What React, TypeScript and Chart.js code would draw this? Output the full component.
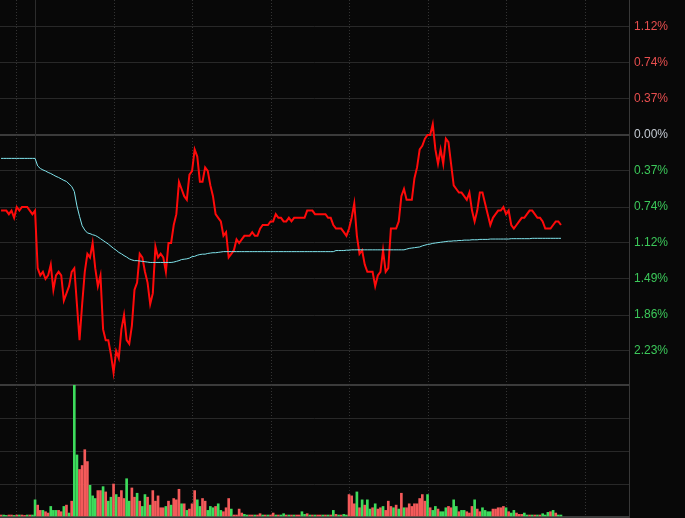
import React, { useEffect, useRef } from "react";
import { Chart, registerables } from "chart.js";

Chart.register(...registerables);

// ---------------- data ----------------
const PREV_CLOSE = 26.9;
const FIRST_MINUTE = -13;
const X_MIN = -13.4;
const X_MAX = 227;

const priceTicks = [27.2, 27.1, 27.0, 26.9, 26.8, 26.7, 26.6, 26.5, 26.4, 26.3];
const volumeTicks = [0, 25, 50, 75, 100];
const solidTimeLines = [0];
const dottedTimeLines = [-7.3, 30, 60, 90, 120, 150, 180, 210];

// last price, one value per minute from -13 to 201
const prices = [
  26.69, 26.69, 26.69, 26.68, 26.69, 26.67, 26.70, 26.69, 26.70, 26.70, 26.70, 26.69, 26.68, 26.69,
  26.53, 26.51, 26.52, 26.50, 26.51, 26.54, 26.47, 26.51, 26.52, 26.51,
  26.44, 26.46, 26.48, 26.52, 26.53, 26.43, 26.33, 26.43, 26.52, 26.57,
  26.56, 26.60, 26.53, 26.48, 26.51, 26.36, 26.33, 26.33, 26.29, 26.24,
  26.30, 26.28, 26.36, 26.40, 26.33, 26.32, 26.37, 26.47, 26.49, 26.57,
  26.56, 26.52, 26.49, 26.43, 26.46, 26.59, 26.56, 26.57, 26.56, 26.52,
  26.60, 26.60, 26.65, 26.68, 26.77, 26.75, 26.73, 26.72, 26.79, 26.80,
  26.86, 26.84, 26.77, 26.77, 26.81, 26.80, 26.76, 26.73, 26.68, 26.67,
  26.66, 26.62, 26.63, 26.56, 26.57, 26.58, 26.61, 26.60, 26.61, 26.62,
  26.62, 26.62, 26.63, 26.62, 26.62, 26.64, 26.65, 26.65, 26.65, 26.66,
  26.66, 26.68, 26.67, 26.67, 26.66, 26.66, 26.67, 26.66, 26.67, 26.67,
  26.67, 26.67, 26.67, 26.69, 26.69, 26.69, 26.68, 26.68, 26.68, 26.68,
  26.68, 26.67, 26.67, 26.65, 26.64, 26.64, 26.64, 26.63, 26.62, 26.64,
  26.67, 26.71, 26.62, 26.57, 26.58, 26.54, 26.52, 26.52, 26.52, 26.48,
  26.51, 26.52, 26.58, 26.52, 26.53, 26.64, 26.64, 26.64, 26.66, 26.73,
  26.75, 26.72, 26.72, 26.72, 26.78, 26.81, 26.86, 26.87, 26.89, 26.90,
  26.90, 26.93, 26.86, 26.82, 26.86, 26.82, 26.89, 26.88, 26.82, 26.76,
  26.75, 26.74, 26.74, 26.73, 26.72, 26.74, 26.69, 26.66, 26.69, 26.74,
  26.74, 26.71, 26.68, 26.65, 26.67, 26.68, 26.69, 26.69, 26.70, 26.68,
  26.69, 26.65, 26.64, 26.65, 26.66, 26.67, 26.67, 26.68, 26.69, 26.69,
  26.68, 26.67, 26.67, 26.66, 26.64, 26.64, 26.64, 26.65, 26.66, 26.66, 26.65,
];

// average price line
const avgPrices = [
  26.835, 26.835, 26.835, 26.835, 26.835, 26.835, 26.835, 26.835, 26.835, 26.835, 26.835, 26.835, 26.835, 26.835,
  26.814, 26.807, 26.803, 26.800, 26.796, 26.793, 26.789, 26.785, 26.782, 26.778,
  26.774, 26.771, 26.764, 26.757, 26.743, 26.703, 26.674, 26.648, 26.636, 26.628,
  26.626, 26.623, 26.621, 26.617, 26.612, 26.607, 26.602, 26.597, 26.591, 26.585,
  26.580, 26.574, 26.570, 26.565, 26.561, 26.556, 26.553, 26.551, 26.551, 26.550,
  26.549, 26.548, 26.547, 26.546, 26.546, 26.546, 26.546, 26.546, 26.546, 26.546,
  26.546, 26.546, 26.547, 26.549, 26.551, 26.554, 26.555, 26.556, 26.558, 26.562,
  26.563, 26.566, 26.568, 26.569, 26.569, 26.571, 26.572, 26.573, 26.573, 26.574,
  26.575, 26.576, 26.576, 26.576, 26.576, 26.576, 26.576, 26.576, 26.576, 26.576,
  26.576, 26.576, 26.576, 26.576, 26.576, 26.576, 26.576, 26.576, 26.576, 26.576,
  26.576, 26.576, 26.576, 26.576, 26.576, 26.576, 26.576, 26.576, 26.576, 26.576,
  26.576, 26.576, 26.576, 26.576, 26.576, 26.576, 26.576, 26.576, 26.576, 26.576,
  26.576, 26.576, 26.576, 26.576, 26.579, 26.579, 26.579, 26.579, 26.580, 26.580,
  26.581, 26.581, 26.581, 26.581, 26.581, 26.581, 26.581, 26.581, 26.581, 26.581,
  26.581, 26.581, 26.581, 26.581, 26.581, 26.581, 26.581, 26.581, 26.581, 26.581,
  26.581, 26.583, 26.585, 26.586, 26.587, 26.588, 26.589, 26.592, 26.594, 26.596,
  26.597, 26.599, 26.600, 26.601, 26.602, 26.603, 26.604, 26.605, 26.605, 26.606,
  26.606, 26.607, 26.607, 26.608, 26.608, 26.608, 26.609, 26.609, 26.609, 26.610,
  26.610, 26.610, 26.610, 26.611, 26.611, 26.611, 26.611, 26.611, 26.611, 26.611,
  26.611, 26.612, 26.612, 26.612, 26.612, 26.612, 26.612, 26.612, 26.612, 26.613,
  26.613, 26.613, 26.613, 26.613, 26.613, 26.613, 26.613, 26.613, 26.613, 26.613, 26.613,
];

// volume (relative units, 100 = top of the volume pane)
const volumes = [
  1.5, 1.5, 1.2, 1.5, 1.5, 1.2, 1.5, 1.5, 1.5, 1.2, 1.5, 1.5, 1.5, 13,
  9, 5, 5, 4, 3, 8, 5, 5, 5, 4,
  8, 9, 3, 12, 100, 47, 36, 39, 51, 42,
  24, 16, 14, 20, 20, 23, 19, 12, 15, 25,
  17, 15, 20, 14, 29, 12, 22, 15, 18, 12,
  8, 17, 15, 9, 20, 12, 16, 7, 7, 8,
  12, 9, 14, 13, 21, 10, 10, 5, 6, 10,
  20, 13, 8, 14, 12, 5, 8, 7, 8, 10,
  5, 4, 7, 14, 6, 1.5, 1.5, 6, 3, 2,
  1.5, 1.5, 1.5, 1.5, 1.5, 2.5, 1.5, 1.5, 1.5, 1.5,
  3, 1.5, 1.5, 1.5, 2.5, 1.5, 1.5, 1.5, 1.5, 1.5,
  1.5, 4, 2, 2.5, 1.5, 1.5, 1.5, 1.5, 1.5, 1.5,
  1.5, 1.5, 1.5, 5, 2, 1.5, 1.5, 2, 1.5, 17,
  16, 10, 19, 7, 13, 9, 13, 6, 7, 10,
  6, 7, 8, 5, 12, 8, 7, 9, 6, 18,
  7, 7, 10, 8, 10, 10, 14, 17, 12, 17,
  7, 5, 8, 6, 4, 4, 7, 8, 7, 13,
  8, 4, 5, 5, 4, 3, 8, 13, 6, 4,
  7, 5, 4, 4, 6, 6, 7, 7, 8, 7,
  4, 3, 5, 3, 2, 2, 3, 1.5, 1.5, 1.5,
  1.5, 1.5, 1.5, 2.5, 1.5, 3.5, 4, 5, 3, 1.5, 1.5,
];

// 1 = up (red) bar, 0 = down (green) bar
const volumeUp = [
  1, 0, 0, 1, 1, 0, 1, 0, 1, 1, 0, 1, 0, 0,
  1, 1, 0, 1, 1, 0, 0, 0, 1, 1,
  0, 1, 0, 1, 0, 0, 1, 1, 1, 1,
  0, 0, 0, 1, 1, 0, 1, 0, 0, 1,
  0, 1, 1, 1, 0, 0, 1, 1, 0, 1,
  0, 0, 1, 0, 1, 1, 1, 1, 1, 0,
  1, 0, 1, 1, 1, 0, 1, 0, 1, 1,
  1, 0, 0, 1, 1, 0, 0, 0, 1, 0,
  0, 1, 1, 1, 0, 1, 1, 1, 1, 0,
  0, 1, 1, 0, 1, 1, 0, 1, 0, 1,
  1, 0, 1, 0, 0, 1, 0, 1, 0, 1,
  1, 0, 0, 1, 0, 1, 0, 1, 1, 0,
  1, 0, 1, 0, 1, 0, 1, 0, 0, 1,
  1, 1, 0, 1, 0, 1, 0, 0, 1, 0,
  1, 1, 0, 1, 1, 1, 0, 1, 0, 1,
  0, 1, 1, 1, 1, 1, 1, 1, 1, 0,
  1, 0, 0, 1, 0, 0, 0, 1, 1, 0,
  0, 1, 0, 0, 1, 1, 1, 0, 1, 1,
  0, 0, 0, 0, 1, 1, 1, 1, 1, 0,
  1, 0, 0, 1, 1, 1, 0, 0, 1, 0,
  1, 0, 1, 0, 0, 0, 1, 0, 1, 0, 0,
];

// ---------------- styles ----------------
const BG = "#080808";
const GRID = "#282828";
const GRID_STRONG = "#3b3b3b";
const PRICE_COLOR = "#ff0a0a";
const AVG_COLOR = "#80e4ec";
const UP_COLOR = "#f45a5a";
const DOWN_COLOR = "#3ddc5c";
const LABEL_UP = "#e84f4f";
const LABEL_DOWN = "#3cc85a";
const LABEL_FLAT = "#c4cad2";
const FONT = { family: '"Liberation Sans", Arial, sans-serif', size: 12 };

const timeGrid = {
  id: "timeGrid",
  beforeDatasetsDraw(chart: any) {
    const { ctx, chartArea, scales } = chart;
    const xs = scales.x;
    ctx.save();
    ctx.lineWidth = 1;
    ctx.strokeStyle = "#333333";
    ctx.setLineDash([1, 2]);
    for (const v of dottedTimeLines) {
      const px = Math.round(xs.getPixelForValue(v)) + 0.5;
      ctx.beginPath();
      ctx.moveTo(px, chartArea.top);
      ctx.lineTo(px, chartArea.bottom);
      ctx.stroke();
    }
    ctx.setLineDash([]);
    ctx.strokeStyle = "#2c2c2c";
    for (const v of solidTimeLines) {
      const px = Math.round(xs.getPixelForValue(v)) + 0.5;
      ctx.beginPath();
      ctx.moveTo(px, chartArea.top);
      ctx.lineTo(px, chartArea.bottom);
      ctx.stroke();
    }
    ctx.strokeStyle = "#383838";
    const rx = Math.round(chartArea.right) + 0.5;
    ctx.beginPath();
    ctx.moveTo(rx, 0);
    ctx.lineTo(rx, chart.height);
    ctx.stroke();
    ctx.restore();
  },
};

const isFlat = (v: number) => Math.abs(v - PREV_CLOSE) < 1e-6;

export default function App() {
  const priceRef = useRef<HTMLCanvasElement>(null);
  const volRef = useRef<HTMLCanvasElement>(null);

  useEffect(() => {
    const priceData = prices.map((p, i) => ({ x: FIRST_MINUTE + i, y: p }));
    const avgData = avgPrices.map((p, i) => ({ x: FIRST_MINUTE + i, y: p }));
    const volData = volumes.map((v, i) => ({ x: FIRST_MINUTE + i, y: v }));
    const volColors = volumeUp.map((u) => (u ? UP_COLOR : DOWN_COLOR));

    const priceChart = new Chart(priceRef.current as HTMLCanvasElement, {
      type: "line",
      data: {
        datasets: [
          {
            data: avgData,
            borderColor: AVG_COLOR,
            borderWidth: 1,
            pointRadius: 0,
            tension: 0,
          },
          {
            data: priceData,
            borderColor: PRICE_COLOR,
            borderWidth: 2,
            pointRadius: 0,
            tension: 0,
          },
        ],
      },
      options: {
        animation: false,
        responsive: false,
        events: [],
        layout: { padding: 0 },
        plugins: { legend: { display: false }, tooltip: { enabled: false } },
        scales: {
          x: {
            type: "linear",
            min: X_MIN,
            max: X_MAX,
            display: false,
          },
          y: {
            position: "right",
            min: PREV_CLOSE - 250 / 360,
            max: PREV_CLOSE + 135 / 360,
            afterBuildTicks: (s: any) => {
              s.ticks = priceTicks.map((v) => ({ value: v }));
            },
            afterFit: (s: any) => {
              s.width = 56;
              s.paddingTop = 0;
              s.paddingBottom = 0;
            },
            border: { display: false },
            grid: {
              drawTicks: false,
              color: (c: any) => (c.tick && isFlat(c.tick.value) ? GRID_STRONG : GRID),
              lineWidth: (c: any) => (c.tick && isFlat(c.tick.value) ? 2 : 1),
            },
            ticks: {
              padding: 5,
              font: FONT,
              color: (c: any) =>
                isFlat(c.tick.value) ? LABEL_FLAT : c.tick.value > PREV_CLOSE ? LABEL_UP : LABEL_DOWN,
              callback: (v: any) =>
                Math.abs(((Number(v) - PREV_CLOSE) / PREV_CLOSE) * 100).toFixed(2) + "%",
            },
          },
        },
      } as any,
      plugins: [timeGrid],
    });

    const volChart = new Chart(volRef.current as HTMLCanvasElement, {
      type: "bar",
      data: {
        datasets: [
          {
            data: volData,
            backgroundColor: volColors,
            borderWidth: 0,
            barThickness: 2,
            grouped: false,
          } as any,
        ],
      },
      options: {
        animation: false,
        responsive: false,
        events: [],
        layout: { padding: { top: 7, bottom: 1, left: 0, right: 0 } },
        plugins: { legend: { display: false }, tooltip: { enabled: false } },
        scales: {
          x: {
            type: "linear",
            min: X_MIN,
            max: X_MAX,
            offset: false,
            display: false,
            grid: { offset: false },
          },
          y: {
            position: "right",
            min: 0,
            max: 100,
            afterBuildTicks: (s: any) => {
              s.ticks = volumeTicks.map((v) => ({ value: v }));
            },
            afterFit: (s: any) => {
              s.width = 56;
              s.paddingTop = 0;
              s.paddingBottom = 0;
            },
            border: { display: false },
            grid: {
              drawTicks: false,
              color: (c: any) => (c.tick && (c.tick.value === 100 || c.tick.value === 0) ? GRID_STRONG : GRID),
              lineWidth: (c: any) => (c.tick && (c.tick.value === 100 || c.tick.value === 0) ? 2 : 1),
            },
            ticks: { display: false },
          },
        },
      } as any,
      plugins: [timeGrid],
    });

    return () => {
      priceChart.destroy();
      volChart.destroy();
    };
  }, []);

  return (
    <div
      style={{
        position: "fixed",
        left: 0,
        top: 0,
        width: 685,
        height: 518,
        background: BG,
        overflow: "hidden",
      }}
    >
      <canvas
        ref={priceRef}
        width={685}
        height={385}
        style={{ position: "absolute", left: 0, top: 0, width: 685, height: 385 }}
      />
      <canvas
        ref={volRef}
        width={685}
        height={140}
        style={{ position: "absolute", left: 0, top: 378, width: 685, height: 140 }}
      />
    </div>
  );
}
